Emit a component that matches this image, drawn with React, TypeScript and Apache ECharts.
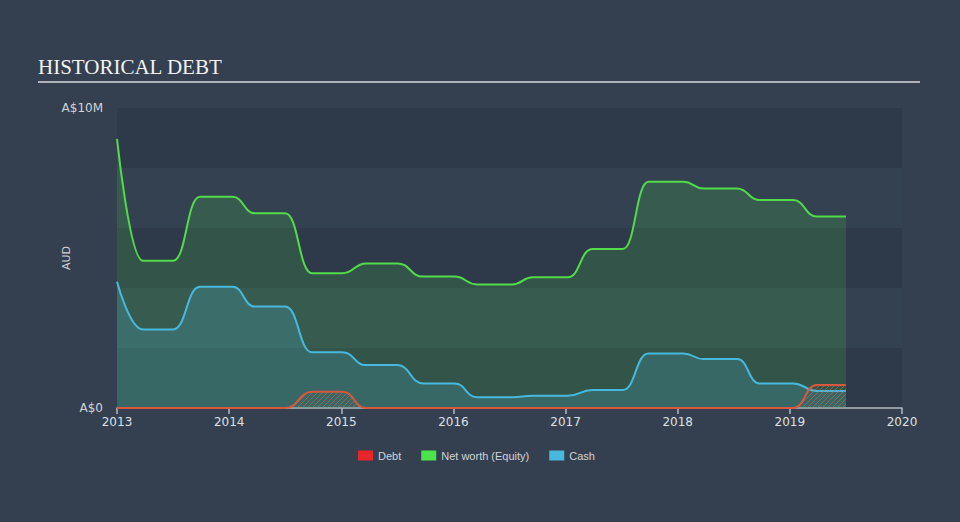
import React, { useEffect, useRef } from "react";
import * as echarts from "echarts";

// Dates as fractional years; values in A$ millions
const periodYears = [
  2013.0, 2013.23, 2013.5, 2013.74, 2014.03, 2014.23, 2014.5, 2014.74, 2015.01,
  2015.22, 2015.5, 2015.73, 2016.01, 2016.21, 2016.52, 2016.71, 2017.02, 2017.24,
  2017.51, 2017.74, 2018.05, 2018.23, 2018.53, 2018.73, 2019.03, 2019.24, 2019.5,
];
const netWorthM = [
  8.97, 4.91, 4.91, 7.04, 7.04, 6.49, 6.49, 4.49, 4.49, 4.82, 4.82, 4.38, 4.38,
  4.12, 4.12, 4.36, 4.36, 5.3, 5.3, 7.54, 7.54, 7.32, 7.32, 6.93, 6.93, 6.38, 6.38,
];
const cashM = [
  4.21, 2.62, 2.62, 4.04, 4.04, 3.38, 3.38, 1.86, 1.86, 1.43, 1.43, 0.82, 0.82,
  0.36, 0.36, 0.41, 0.41, 0.6, 0.6, 1.82, 1.82, 1.63, 1.63, 0.82, 0.82, 0.57, 0.57,
];
const debtYears = [2013.0, 2014.5, 2014.74, 2015.01, 2015.22, 2019.03, 2019.24, 2019.5];
const debtM = [0, 0, 0.54, 0.54, 0, 0, 0.77, 0.77];

const xTickYears = [2013, 2014, 2015, 2016, 2017, 2018, 2019, 2020];
const yTickLabels: Record<number, string> = { 0: "A$0", 10000000: "A$10M" };

const seriesNames = ["Debt", "Net worth (Equity)", "Cash"];

function pairs(xs: number[], ys: number[]) {
  return xs.map((x, i) => [x, ys[i] * 1e6]);
}

function makeHatch() {
  const c = document.createElement("canvas");
  c.width = 5;
  c.height = 5;
  const ctx = c.getContext("2d")!;
  ctx.strokeStyle = "rgba(205,100,75,0.6)";
  ctx.lineWidth = 1;
  ctx.beginPath();
  ctx.moveTo(0, 5);
  ctx.lineTo(5, 0);
  ctx.moveTo(-1, 1);
  ctx.lineTo(1, -1);
  ctx.moveTo(4, 6);
  ctx.lineTo(6, 4);
  ctx.stroke();
  return c;
}

export default function App() {
  const ref = useRef<HTMLDivElement>(null);
  useEffect(() => {
    if (!ref.current) return;
    const chart = echarts.init(ref.current, null, { renderer: "svg" });
    const hatch = makeHatch();
    const sans = "DejaVu Sans";
    chart.setOption({
      animation: false,
      backgroundColor: "#34404f",
      grid: { left: 117, right: 58, top: 108, bottom: 114 },
      graphic: [
        {
          type: "text",
          left: 38,
          top: 56,
          style: {
            text: "HISTORICAL DEBT",
            fill: "#f2f2f2",
            font: '21px "Liberation Serif"',
          },
        },
        {
          type: "rect",
          shape: { x: 38, y: 81, width: 882, height: 2 },
          style: { fill: "#aeb3ba" },
        },
        {
          type: "text",
          x: 66,
          y: 258,
          rotation: Math.PI / 2,
          style: {
            text: "AUD",
            fill: "#d0d4d9",
            font: '11px "DejaVu Sans"',
            align: "center",
            verticalAlign: "middle",
          },
        },
      ],
      legend: {
        left: 353,
        top: 445,
        itemWidth: 15,
        itemHeight: 10,
        itemGap: 20,
        icon: "rect",
        textStyle: { color: "#d0d4d9", fontSize: 11, fontFamily: "Liberation Sans" },
        data: [
          { name: seriesNames[0], itemStyle: { color: "#e8262a" } },
          { name: seriesNames[1], itemStyle: { color: "#4de34d" } },
          { name: seriesNames[2], itemStyle: { color: "#48b9de" } },
        ],
      },
      xAxis: {
        type: "value",
        min: xTickYears[0],
        max: xTickYears[xTickYears.length - 1],
        interval: 1,
        axisLine: { show: true, lineStyle: { color: "#b1b8c2", width: 1.5 } },
        axisTick: { show: true, length: 6, lineStyle: { color: "#b1b8c2", width: 1.5 } },
        axisLabel: {
          color: "#dde0e4",
          fontSize: 12,
          fontFamily: sans,
          margin: 8,
          formatter: (v: number) => String(v),
        },
        splitLine: { show: false },
      },
      yAxis: {
        type: "value",
        min: 0,
        max: 10000000,
        interval: 2000000,
        axisLine: { show: false },
        axisTick: { show: false },
        axisLabel: {
          color: "#d0d4d9",
          fontSize: 12,
          fontFamily: sans,
          margin: 14,
          formatter: (v: number) => yTickLabels[v] ?? "",
        },
        splitLine: { show: false },
        splitArea: { show: true, areaStyle: { color: ["#2e3a4a", "#344151"] } },
      },
      series: [
        {
          name: seriesNames[1],
          type: "line",
          data: pairs(periodYears, netWorthM),
          smooth: 0.5,
          smoothMonotone: "x",
          showSymbol: false,
          color: "#4de34d",
          lineStyle: { color: "#52dc4a", width: 2 },
          areaStyle: { color: "rgba(78,220,74,0.24)" },
          z: 2,
        },
        {
          name: seriesNames[2],
          type: "line",
          data: pairs(periodYears, cashM),
          smooth: 0.5,
          smoothMonotone: "x",
          showSymbol: false,
          color: "#48b9de",
          lineStyle: { color: "#48b9de", width: 2 },
          areaStyle: { color: "rgba(72,185,222,0.28)" },
          z: 3,
        },
        {
          name: seriesNames[0],
          type: "line",
          data: pairs(debtYears, debtM),
          smooth: 0.5,
          smoothMonotone: "x",
          showSymbol: false,
          color: "#e8262a",
          lineStyle: { color: "#d9573c", width: 2 },
          areaStyle: {
            color: { image: hatch, repeat: "repeat", imageWidth: 5, imageHeight: 5 },
            opacity: 1,
          },
          z: 4,
        },
      ],
    });
    return () => chart.dispose();
  }, []);
  return (
    <div
      ref={ref}
      style={{ position: "absolute", left: 0, top: 0, width: 960, height: 522 }}
    />
  );
}
